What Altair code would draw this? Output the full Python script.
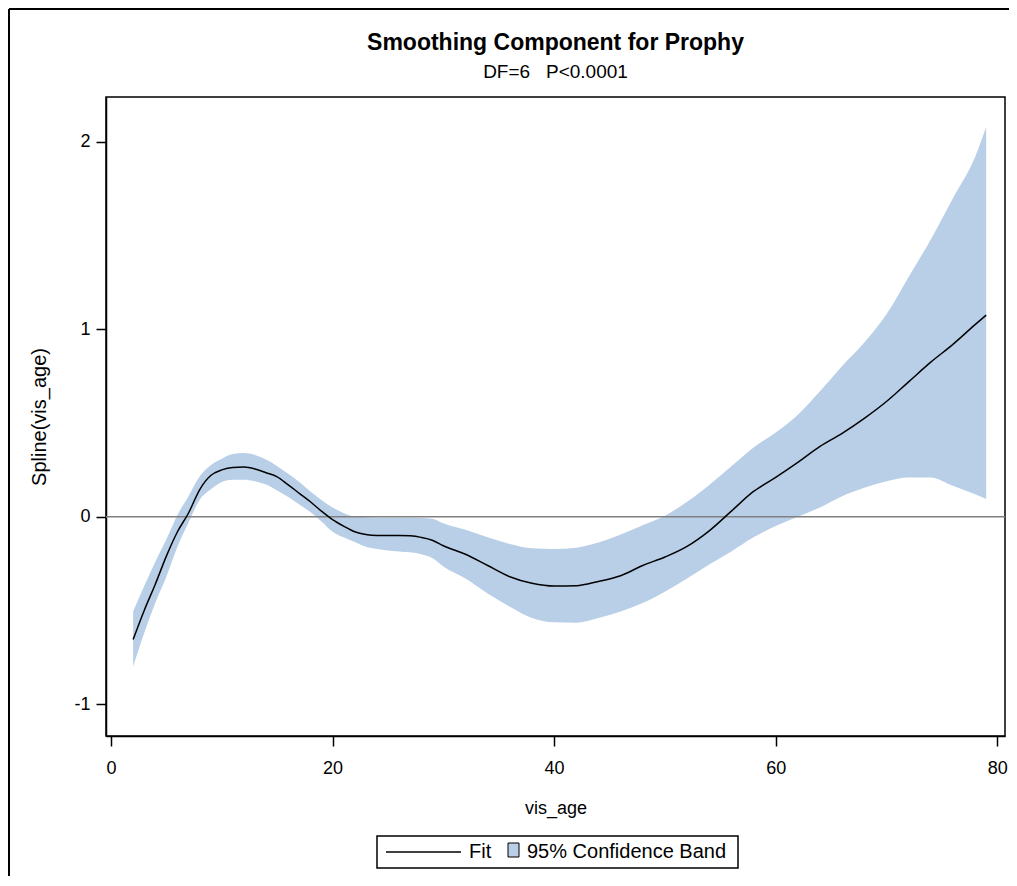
import altair as alt
import pandas as pd

# ---- data ----
vis_age = [2, 3, 4, 5, 6, 7, 8, 9, 10, 11, 12, 13, 14, 15, 16, 17, 18, 19, 20,
           21, 22, 23, 24, 25, 26, 27, 28, 29, 30, 32, 34, 36, 38, 40, 42, 44,
           46, 48, 50, 52, 54, 56, 58, 60, 62, 64, 66, 68, 70, 72, 74, 76, 78, 79]
fit = [-0.655, -0.50, -0.36, -0.21, -0.08, 0.02, 0.144, 0.22, 0.25, 0.263, 0.265,
       0.255, 0.235, 0.213, 0.17, 0.125, 0.08, 0.03, -0.015, -0.05, -0.08, -0.095,
       -0.10, -0.10, -0.10, -0.102, -0.11, -0.125, -0.155, -0.20, -0.26, -0.32,
       -0.355, -0.37, -0.368, -0.345, -0.315, -0.26, -0.215, -0.158, -0.075, 0.03,
       0.135, 0.21, 0.29, 0.375, 0.445, 0.525, 0.615, 0.72, 0.825, 0.92, 1.025, 1.076]
upper = [-0.505, -0.37, -0.24, -0.12, 0.01, 0.11, 0.215, 0.275, 0.31, 0.335, 0.34,
         0.33, 0.305, 0.27, 0.23, 0.185, 0.135, 0.09, 0.05, 0.02, 0.0, -0.003,
         -0.005, -0.005, -0.005, -0.005, -0.006, -0.01, -0.035, -0.07, -0.11, -0.145,
         -0.168, -0.172, -0.165, -0.138, -0.095, -0.045, 0.005, 0.08, 0.17, 0.27,
         0.37, 0.45, 0.545, 0.67, 0.805, 0.93, 1.08, 1.28, 1.48, 1.70, 1.92, 2.08]
lower = [-0.80, -0.62, -0.46, -0.32, -0.16, -0.03, 0.09, 0.145, 0.185, 0.197, 0.198,
         0.19, 0.172, 0.14, 0.105, 0.065, 0.025, -0.025, -0.08, -0.11, -0.135, -0.16,
         -0.172, -0.18, -0.185, -0.19, -0.20, -0.22, -0.265, -0.33, -0.41, -0.48,
         -0.54, -0.563, -0.565, -0.54, -0.505, -0.46, -0.40, -0.33, -0.255, -0.185,
         -0.11, -0.05, 0.0, 0.05, 0.11, 0.155, 0.19, 0.21, 0.21, 0.165, 0.12, 0.095]
reference_y = [0]
x_ticks = [0, 20, 40, 60, 80]
y_ticks = [-1, 0, 1, 2]
title_text = ["Smoothing Component for Prophy"]
subtitle_text = ["DF=6\u00a0\u00a0\u00a0P<0.0001"]
x_title = "vis_age"
y_title = "Spline(vis_age)"
legend_labels = ["Fit", "95% Confidence Band"]

FONT = "Liberation Sans, Arial, sans-serif"
BAND = "#b9cfe7"

W, H = 899, 639

df = pd.DataFrame({"vis_age": vis_age, "fit": fit, "lower": lower, "upper": upper})

xscale = alt.Scale(domain=[-0.45, 80.7], nice=False, zero=False)
yscale = alt.Scale(domain=[-1.17, 2.24], nice=False, zero=False)

xaxis = alt.Axis(values=x_ticks, title=x_title, titleY=72, titleBaseline="middle",
                 titleFontSize=18, labelPadding=13, labelExpr="'' + datum.value")
yaxis = alt.Axis(values=y_ticks, title=y_title, titleX=-67, titleY=H / 2,
                 titleBaseline="middle", titleAlign="center", titleAngle=-90,
                 titleFontSize=20, labelPadding=6, labelExpr="'' + datum.value")

band = alt.Chart(df).mark_area(color=BAND, opacity=1, interpolate="monotone").encode(
    x=alt.X("vis_age:Q", scale=xscale, axis=xaxis),
    y=alt.Y("lower:Q", scale=yscale, axis=yaxis),
    y2="upper:Q",
)

zero = alt.Chart(pd.DataFrame({"y": reference_y})).mark_rule(
    color="#808080", strokeWidth=1.5
).encode(y=alt.Y("y:Q", scale=yscale))

line = alt.Chart(df).mark_line(color="black", strokeWidth=1.5, interpolate="monotone").encode(
    x=alt.X("vis_age:Q", scale=xscale),
    y=alt.Y("fit:Q", scale=yscale),
)

# ---- titles as text ----
title_mark = alt.Chart(pd.DataFrame({"t": title_text})).mark_text(
    align="center", baseline="alphabetic", font=FONT, fontSize=23, fontWeight="bold",
    color="black").encode(x=alt.value(449.5), y=alt.value(-47), text="t:N")
subtitle_mark = alt.Chart(pd.DataFrame({"t": subtitle_text})).mark_text(
    align="center", baseline="alphabetic", font=FONT, fontSize=19,
    color="black").encode(x=alt.value(449.5), y=alt.value(-19), text="t:N")

# ---- legend (SAS style box) ----
leg_fit = pd.DataFrame({"label": [legend_labels[0]]})
leg_band = pd.DataFrame({"label": [legend_labels[1]]})

leg_box = alt.Chart(leg_fit).mark_rect(fill="white", stroke="black", strokeWidth=1.5).encode(
    x=alt.value(271), x2=alt.value(632), y=alt.value(739), y2=alt.value(771))
leg_line = alt.Chart(leg_fit).mark_rule(color="black", strokeWidth=1.5).encode(
    x=alt.value(280), x2=alt.value(355), y=alt.value(755))
leg_sq = alt.Chart(leg_band).mark_rect(fill=BAND, stroke="black", strokeWidth=1).encode(
    x=alt.value(402), x2=alt.value(413), y=alt.value(746), y2=alt.value(760))
leg_t1 = alt.Chart(leg_fit).mark_text(align="left", baseline="middle", font=FONT,
                                      fontSize=20, color="black").encode(
    x=alt.value(363), y=alt.value(755), text="label:N")
leg_t2 = alt.Chart(leg_band).mark_text(align="left", baseline="middle", font=FONT,
                                       fontSize=20, color="black").encode(
    x=alt.value(421), y=alt.value(755), text="label:N")

# outer frame of the graph image (left and top edges)
border_l = alt.Chart(leg_fit).mark_rule(color="black", strokeWidth=2).encode(
    x=alt.value(-97), y=alt.value(-88), y2=alt.value(H + 140))
border_t = alt.Chart(leg_fit).mark_rule(color="black", strokeWidth=2).encode(
    x=alt.value(-97), x2=alt.value(W + 4), y=alt.value(-88))

chart = alt.layer(
    band, zero, line, title_mark, subtitle_mark,
    leg_box, leg_line, leg_sq, leg_t1, leg_t2, border_l, border_t
).properties(
    width=W,
    height=H,
    background="white",
    autosize=alt.AutoSizeParams(type="none"),
    padding={"left": 98, "top": 89, "right": 4, "bottom": 140},
).configure_view(
    stroke="black", strokeWidth=1.5
).configure_axis(
    grid=False, domainColor="black", domainWidth=1.5, tickColor="black",
    tickWidth=1.5, tickSize=10, labelFont=FONT, labelFontSize=18, labelColor="black",
    titleFont=FONT, titleColor="black", titleFontWeight="normal",
)

chart.save("out.html", embed_options={"renderer": "svg", "actions": False})
